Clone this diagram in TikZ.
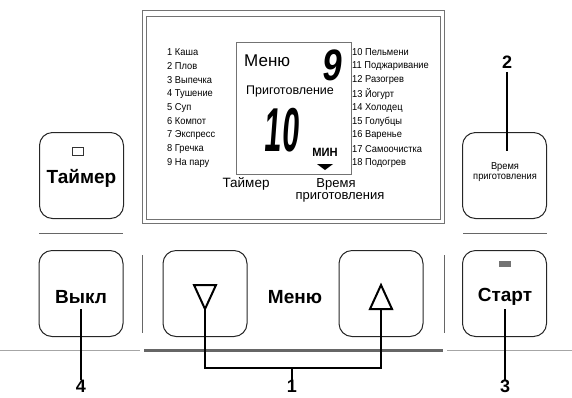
\documentclass[tikz,border=0pt]{standalone}
\usepackage{fontspec}
\setmainfont{Liberation Sans}
\newfontfamily\cond[FakeStretch=0.93]{Liberation Sans}
\newfontfamily\lcdf[FakeStretch=0.8,FakeSlant=0.12]{Liberation Sans}
\begin{document}
\begin{tikzpicture}[x=1pt,y=-1pt,
  btn/.style={draw=black!85,line width=1pt,rounded corners=13pt,minimum width=84pt,minimum height=86pt,inner sep=0pt},
  frame/.style={draw=black!55,line width=0.9pt},
  listl/.style={anchor=west,font=\cond\fontsize{10}{11}\selectfont,inner sep=0pt},
  btxt/.style={font=\bfseries\fontsize{19}{21}\selectfont,inner sep=0pt},
  callout/.style={draw=black,line width=1.6pt},
  num/.style={font=\bfseries\fontsize{18}{19}\selectfont,inner sep=0pt,anchor=north},
  sep/.style={draw=black!60,line width=0.9pt}]
\useasboundingbox (0,0) rectangle (572,397);

% display frame
\draw[frame] (142,10) rectangle (444,223);
\draw[frame] (146,16) rectangle (440,219);
\draw[frame] (236,42) rectangle (351,174);

% program lists
\foreach \t [count=\i from 0] in {1 Каша,2 Плов,3 Выпечка,4 Тушение,5 Суп,6 Компот,7 Экспресс,8 Гречка,9 На пару}
  \node[listl] (l\i) at (167,{52+13.9*\i}) {\t};
\foreach \t [count=\i from 0] in {10 Пельмени,11 Поджаривание,12 Разогрев,13 Йогурт,14 Холодец,15 Голубцы,16 Варенье,17 Самоочистка,18 Подогрев}
  \node[listl] (r\i) at (352,{52+13.9*\i}) {\t};

% LCD contents
\node[anchor=west,inner sep=0pt,font=\fontsize{17}{18}\selectfont] (lmenu) at (244,61) {Меню};
\node[inner sep=0pt,font=\lcdf\bfseries\fontsize{44}{44}\selectfont] (l9) at (331,65) {9};
\node[inner sep=0pt,font=\fontsize{12.5}{14}\selectfont] (lprig) at (290,91) {Приготовление};
\node[inner sep=0pt,font=\lcdf\bfseries\fontsize{62}{62}\selectfont] (l10) at (281,130) {\scalebox{0.62}[1]{10}};
\node[inner sep=0pt,font=\cond\bfseries\fontsize{12}{13}\selectfont] (lmin) at (325,152) {МИН};
\fill (317,164) -- (333,164) -- (325,170) -- cycle;
\node[inner sep=0pt,font=\fontsize{13.5}{14}\selectfont] (ltim) at (246,184) {Таймер};
\node[inner sep=0pt,font=\fontsize{13}{14}\selectfont] (lvr) at (336,184) {Время};
\node[inner sep=0pt,font=\fontsize{13}{14}\selectfont] (lpr) at (340,197) {приготовления};

% top buttons
\node[btn] (timer) at (81.5,175.5) {};
\draw[black!80,line width=0.9pt] (72,147) rectangle (83,155);
\node[btxt] (timertxt) at (81.5,178) {Таймер};
\node[btn] (cook) at (504.5,175.5) {};
\node[inner sep=0pt,font=\cond\fontsize{10}{11}\selectfont] (cooktxt1) at (505,167) {Время};
\node[inner sep=0pt,font=\cond\fontsize{10}{11}\selectfont] (cooktxt2) at (505,178) {приготовления};
\node[num] (n2) at (507,56) {2};
\draw[callout] (n2.south) ++(0,3) -- (507,151);

% separators
\draw[sep] (39,233) -- (123,233);
\draw[sep] (463,233) -- (547,233);
\draw[sep] (142,255) -- (142,333);
\draw[sep] (444,255) -- (444,333);

% bottom buttons
\node[btn] (off) at (81,293.5) {};
\node[btn] (down) at (205,293.5) {};
\node[btn] (up) at (381,293.5) {};
\node[btn] (start) at (504.5,293.5) {};
\node[btxt] (offtxt) at (81,297) {Выкл};
\node[btxt] (menutxt) at (295,297) {Меню};
\node[btxt] (starttxt) at (505,297) {Старт};
\fill[black!55] (499,261) rectangle (511,267);
\draw[line width=2pt,line join=miter] (194,285) -- (216,285) -- (205,309) -- cycle;
\draw[line width=2pt,line join=miter] (370,309) -- (392,309) -- (381,285) -- cycle;

% bottom rail
\draw[black!35,line width=1pt] (0,350) -- (140,350);
\draw[black!35,line width=1pt] (447,350) -- (572,350);
\draw[black!60,line width=3pt] (144,350) -- (443,350);

% callouts
\node[num] (n4) at (81,380) {4};
\node[num] (n1) at (292,380) {1};
\node[num] (n3) at (505,380) {3};
\draw[callout] (81,309) -- (n4.north);
\draw[callout] (505,309) -- (n3.north);
\coordinate (bl) at (205,368);
\coordinate (br) at (381,368);
\draw[callout] (205,310) -- (bl) -- (br) -- (381,310);
\draw[callout] (292,368) -- (n1.north);
\end{tikzpicture}
\end{document}
